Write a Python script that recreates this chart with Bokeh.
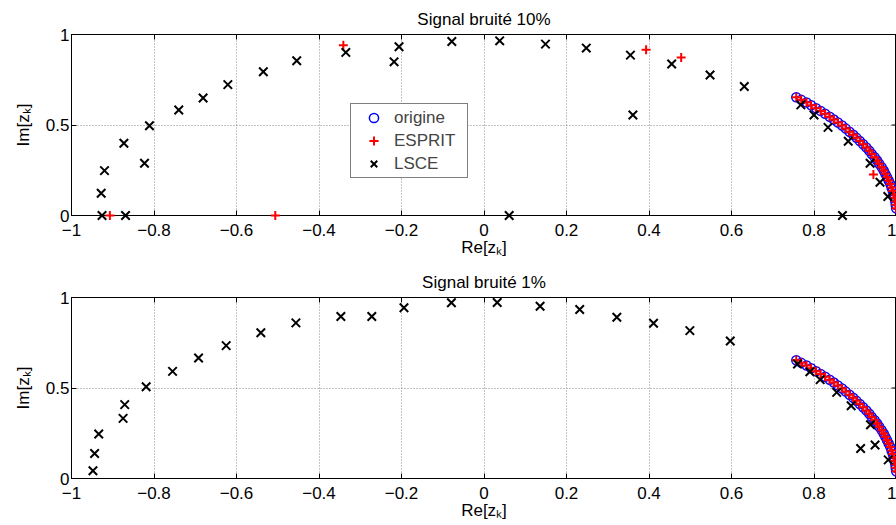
from bokeh.plotting import figure
from bokeh.models import Range1d, LinearAxis, FixedTicker, Legend, LegendItem
from bokeh.layouts import column
from bokeh.embed import file_html
from bokeh.resources import INLINE

FONT = "Liberation Sans"
FS = "17px"

x_ticks = [-1, -0.8, -0.6, -0.4, -0.2, 0, 0.2, 0.4, 0.6, 0.8, 1]
x_tick_labels = ["−1", "−0.8", "−0.6", "−0.4", "−0.2", "0", "0.2", "0.4", "0.6", "0.8", "1"]
y_ticks = [0, 0.5, 1]
y_tick_labels = ["0", "0.5", "1"]

titles = ["Signal bruité 10%", "Signal bruité 1%"]
x_label = "Re[zₖ]"
y_label = "Im[zₖ]"
legend_labels = ["origine", "ESPRIT", "LSCE"]

# original poles (same in both panels)
origin_re = [0.757, 0.769, 0.782, 0.793, 0.805, 0.816, 0.827, 0.838, 0.848, 0.858,
             0.868, 0.877, 0.886, 0.895, 0.903, 0.911, 0.919, 0.927, 0.934, 0.940,
             0.947, 0.953, 0.958, 0.964, 0.969, 0.973, 0.977, 0.981, 0.985, 0.988,
             0.991, 0.993, 0.995, 0.997, 0.998, 0.999]
origin_im = [0.653, 0.639, 0.624, 0.609, 0.593, 0.578, 0.562, 0.546, 0.530, 0.514,
             0.497, 0.480, 0.463, 0.446, 0.429, 0.412, 0.394, 0.376, 0.358, 0.340,
             0.322, 0.304, 0.286, 0.267, 0.249, 0.230, 0.211, 0.193, 0.174, 0.155,
             0.136, 0.117, 0.098, 0.079, 0.059, 0.040]

# --- 10 % noise ---
esprit10_extra_re = [-0.907, -0.506, -0.341, 0.393, 0.478, 0.944]
esprit10_extra_im = [0.0, 0.0, 0.941, 0.916, 0.873, 0.226]
esprit10_re = origin_re + esprit10_extra_re
esprit10_im = origin_im + esprit10_extra_im

lsce10_re = [-0.926, -0.869, -0.928, -0.920, -0.873, -0.823, -0.811, -0.740, -0.681, -0.621,
             -0.535, -0.454, -0.335, -0.206, -0.218, -0.078, 0.038, 0.149, 0.248, 0.061,
             0.355, 0.361, 0.455, 0.548, 0.631, 0.869, 0.768, 0.800, 0.834, 0.883,
             0.936, 0.960, 0.979]
lsce10_im = [0.0, 0.0, 0.123, 0.248, 0.399, 0.289, 0.496, 0.583, 0.649, 0.723,
             0.794, 0.855, 0.901, 0.932, 0.849, 0.961, 0.965, 0.947, 0.925, 0.0,
             0.886, 0.555, 0.837, 0.776, 0.713, 0.0, 0.611, 0.555, 0.487, 0.410,
             0.289, 0.184, 0.105]

# --- 1 % noise ---
esprit1_re = list(origin_re)
esprit1_im = list(origin_im)

lsce1_re = [-0.948, -0.944, -0.934, -0.875, -0.871, -0.819, -0.755, -0.692, -0.625, -0.541,
            -0.456, -0.347, -0.272, -0.194, -0.079, 0.032, 0.136, 0.232, 0.322, 0.411,
            0.499, 0.597, 0.760, 0.790, 0.815, 0.855, 0.890, 0.937, 0.913, 0.948, 0.980]
lsce1_im = [0.043, 0.138, 0.246, 0.332, 0.408, 0.507, 0.592, 0.666, 0.734, 0.805,
            0.860, 0.895, 0.895, 0.943, 0.971, 0.972, 0.952, 0.934, 0.891, 0.858,
            0.817, 0.760, 0.633, 0.590, 0.546, 0.476, 0.402, 0.297, 0.166, 0.185, 0.103]

TICK_LEN_DATA = 0.012  # length of the inward tick drawn on the right edge


def make_fig(title, height, top, bottom):
    p = figure(width=896, height=height, x_range=Range1d(-1, 1), y_range=Range1d(0, 1),
               output_backend="svg", toolbar_location=None,
               min_border_left=71, min_border_right=0,
               min_border_top=top, min_border_bottom=bottom)
    p.background_fill_color = "white"
    p.border_fill_color = "white"
    p.outline_line_color = "black"
    p.outline_line_width = 1

    p.title.text = title
    p.title.align = "center"
    p.title.text_font = FONT
    p.title.text_font_size = FS
    p.title.text_font_style = "normal"
    p.title.text_color = "black"
    p.title.standoff = 12

    for ax in (p.xaxis, p.yaxis):
        ax.axis_line_color = "black"
        ax.major_tick_line_color = "black"
        ax.major_tick_in = 5
        ax.major_tick_out = 0
        ax.minor_tick_line_color = None
        ax.major_label_text_font = FONT
        ax.major_label_text_font_size = FS
        ax.major_label_text_color = "black"
        ax.axis_label_text_font = FONT
        ax.axis_label_text_font_size = FS
        ax.axis_label_text_font_style = "normal"
        ax.axis_label_text_color = "black"

    p.xaxis.ticker = FixedTicker(ticks=x_ticks)
    p.xaxis.major_label_overrides = dict(zip(x_ticks, x_tick_labels))
    p.xaxis.major_label_standoff = 8
    p.xaxis.axis_label = x_label
    p.xaxis.axis_label_standoff = -1

    p.yaxis.ticker = FixedTicker(ticks=y_ticks)
    p.yaxis.major_label_overrides = dict(zip(y_ticks, y_tick_labels))
    p.yaxis.major_label_standoff = 2
    p.yaxis.axis_label = y_label
    p.yaxis.axis_label_standoff = 10

    top_ax = LinearAxis(ticker=FixedTicker(ticks=x_ticks), major_tick_in=5, major_tick_out=0,
                        minor_tick_line_color=None, major_label_text_font_size="0px",
                        major_label_overrides={t: "" for t in x_ticks},
                        major_label_standoff=0, axis_line_color="black")
    p.add_layout(top_ax, "above")

    # inward ticks on the right edge of the box
    inner = y_ticks[1:-1]
    p.segment(x0=[x_ticks[-1]] * len(inner), y0=inner,
              x1=[x_ticks[-1] - TICK_LEN_DATA] * len(inner), y1=inner,
              line_color="black", line_width=1)

    p.xgrid.ticker = FixedTicker(ticks=x_ticks)
    p.ygrid.ticker = FixedTicker(ticks=y_ticks)
    for g in (p.xgrid, p.ygrid):
        g.grid_line_color = "#888888"
        g.grid_line_dash = "1 2"
        g.grid_line_width = 1
    return p


def add_series(p, o_re, o_im, e_re, e_im, l_re, l_im):
    r_o = p.scatter(o_re, o_im, marker="circle", size=9, fill_color=None,
                    line_color="#0000ff", line_width=1.5, level="overlay")
    r_e = p.scatter(e_re, e_im, marker="cross", size=9, line_color="#ff0000", line_width=2,
                    level="overlay")
    r_l = p.scatter(l_re, l_im, marker="x", size=12, line_color="black", line_width=2,
                    level="overlay")
    return r_o, r_e, r_l


p1 = make_fig(titles[0], 262, 34, 47)
rs = add_series(p1, origin_re, origin_im, esprit10_re, esprit10_im, lsce10_re, lsce10_im)
legend = Legend(items=[LegendItem(label=lab, renderers=[r]) for lab, r in zip(legend_labels, rs)],
                location=(279, 37), margin=0, padding=2, spacing=0,
                glyph_width=41, glyph_height=23, label_height=23, label_width=71,
                label_standoff=0, label_text_font=FONT, label_text_font_size=FS,
                border_line_color="black", border_line_width=1,
                background_fill_color="white", background_fill_alpha=1)
p1.add_layout(legend)

p2 = make_fig(titles[1], 263, 35, 47)
add_series(p2, origin_re, origin_im, esprit1_re, esprit1_im, lsce1_re, lsce1_im)

layout = column(p1, p2, spacing=0)
open("out.html", "w").write(file_html(layout, INLINE))
